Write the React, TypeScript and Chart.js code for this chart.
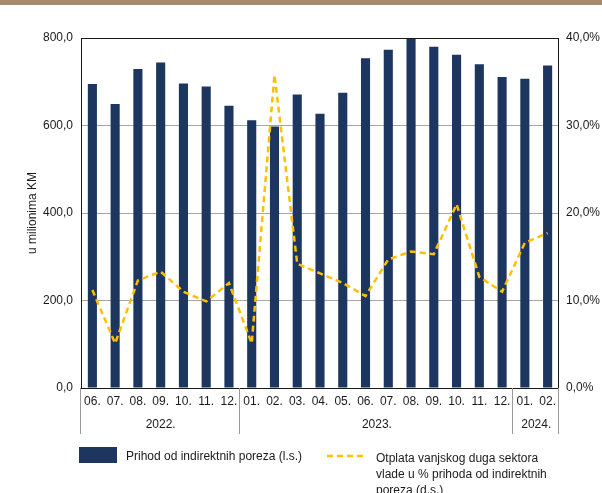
import React, { useEffect, useRef } from "react";
import { Chart, registerables } from "chart.js";

Chart.register(...registerables);

const months = ["06.", "07.", "08.", "09.", "10.", "11.", "12.", "01.", "02.", "03.", "04.", "05.", "06.", "07.", "08.", "09.", "10.", "11.", "12.", "01.", "02."];
const yearLabels = ["2022.", "2023.", "2024."];
const yearCounts = [7, 12, 2];
const incomeValues = [695, 649, 729, 744, 696, 689, 645, 612, 598, 671, 627, 675, 754, 773, 800, 780, 762, 740, 711, 707, 737];
const debtShare = [11.2, 5.1, 12.3, 13.3, 11.0, 9.9, 12.0, 5.1, 35.8, 14.2, 13.1, 12.0, 10.5, 14.7, 15.6, 15.3, 21.0, 12.7, 11.0, 16.6, 17.7];
const leftTicks = [0, 200, 400, 600, 800];
const rightTicks = [0, 10, 20, 30, 40];
const barLegend = "Prihod od indirektnih poreza (l.s.)";
const lineLegend = ["Otplata vanjskog duga sektora", "vlade u % prihoda od indirektnih", "poreza (d.s.)"];
const yTitle = "u milionima KM";

const FONT = "'Liberation Sans', Arial, sans-serif";
const BAR_COLOR = "#1c365f";
const LINE_COLOR = "#ffc000";
const TEXT_COLOR = "#1a1a1a";

export default function App() {
  const ref = useRef<HTMLCanvasElement | null>(null);

  useEffect(() => {
    document.body.style.margin = "0";
    const canvas = ref.current;
    if (!canvas) return;

    const decor = {
      id: "decor",
      afterDraw(chart: any) {
        const ctx = chart.ctx;
        const ca = chart.chartArea;
        const x = chart.scales.x;
        ctx.save();
        // top band
        ctx.fillStyle = "#a68a6c";
        ctx.fillRect(0, 0, 602, 5);
        // frame
        ctx.strokeStyle = "#1a1a1a";
        ctx.lineWidth = 1;
        ctx.strokeRect(Math.round(ca.left) + 0.5, Math.round(ca.top) + 0.5, Math.round(ca.right - ca.left) - 1, Math.round(ca.bottom - ca.top));
        // separators and year labels
        ctx.strokeStyle = "#9a9a9a";
        ctx.fillStyle = TEXT_COLOR;
        ctx.font = `12px ${FONT}`;
        ctx.textAlign = "center";
        ctx.textBaseline = "middle";
        let start = 0;
        const edges: number[] = [ca.left];
        yearCounts.forEach((cnt, gi) => {
          const end = start + cnt - 1;
          const x0 = x.getPixelForValue(start);
          const x1 = x.getPixelForValue(end);
          ctx.fillText(yearLabels[gi], (x0 + x1) / 2, 425);
          const edge = end < months.length - 1 ? (x.getPixelForValue(end) + x.getPixelForValue(end + 1)) / 2 : ca.right;
          edges.push(edge);
          start += cnt;
        });
        edges.forEach((e) => {
          const xx = Math.round(e) - 0.5;
          ctx.beginPath();
          ctx.moveTo(xx, ca.bottom);
          ctx.lineTo(xx, 434);
          ctx.stroke();
        });
        // y title
        ctx.save();
        ctx.translate(33, 213);
        ctx.rotate(-Math.PI / 2);
        ctx.fillText(yTitle, 0, 0);
        ctx.restore();
        // legend
        ctx.textAlign = "left";
        ctx.fillStyle = BAR_COLOR;
        ctx.fillRect(79, 447, 38, 16);
        ctx.fillStyle = TEXT_COLOR;
        ctx.fillText(barLegend, 126, 457);
        ctx.strokeStyle = LINE_COLOR;
        ctx.lineWidth = 2.5;
        ctx.setLineDash([6, 4]);
        ctx.beginPath();
        ctx.moveTo(327, 456);
        ctx.lineTo(366, 456);
        ctx.stroke();
        ctx.setLineDash([]);
        lineLegend.forEach((t, i) => ctx.fillText(t, 376, 459 + i * 16));
        ctx.restore();
      },
    };

    const chart = new Chart(canvas, {
      type: "bar",
      data: {
        labels: months,
        datasets: [
          {
            type: "line",
            label: lineLegend.join(" "),
            data: debtShare,
            yAxisID: "y1",
            borderColor: LINE_COLOR,
            borderWidth: 2.5,
            borderDash: [6, 4],
            pointRadius: 0,
            tension: 0,
            fill: false,
            order: 0,
          } as any,
          {
            type: "bar",
            label: barLegend,
            data: incomeValues,
            yAxisID: "y",
            backgroundColor: BAR_COLOR,
            barPercentage: 0.4,
            categoryPercentage: 1.0,
            order: 1,
          },
        ],
      },
      options: {
        responsive: false,
        animation: false,
        layout: { padding: { top: 38, left: 0, right: 0, bottom: 0 } },
        plugins: { legend: { display: false }, tooltip: { enabled: false } },
        scales: {
          x: {
            grid: { display: false, drawTicks: false },
            border: { display: false },
            ticks: { padding: 6, color: TEXT_COLOR, font: { family: FONT, size: 12 }, maxRotation: 0, autoSkip: false },
            afterFit: (s: any) => { s.height = 105; },
          },
          y: {
            position: "left",
            min: 0,
            max: 800,
            afterBuildTicks: (s: any) => { s.ticks = leftTicks.map((v) => ({ value: v })); },
            ticks: { padding: 8, color: TEXT_COLOR, font: { family: FONT, size: 12 }, callback: (v: any) => Number(v).toFixed(1).replace(".", ",") },
            grid: { color: "#a6a6a6", drawTicks: false },
            border: { display: false },
            afterFit: (s: any) => { s.width = 81; },
          },
          y1: {
            position: "right",
            min: 0,
            max: 40,
            afterBuildTicks: (s: any) => { s.ticks = rightTicks.map((v) => ({ value: v })); },
            ticks: { padding: 7, color: TEXT_COLOR, font: { family: FONT, size: 12 }, callback: (v: any) => Number(v).toFixed(1).replace(".", ",") + "%" },
            grid: { display: false, drawTicks: false },
            border: { display: false },
            afterFit: (s: any) => { s.width = 43; },
          },
        },
      },
      plugins: [decor],
    });
    return () => chart.destroy();
  }, []);

  return (
    <div style={{ position: "fixed", left: 0, top: 0, width: 602, height: 493, background: "#fff" }}>
      <canvas ref={ref} width={602} height={493} style={{ width: 602, height: 493, display: "block" }} />
    </div>
  );
}
